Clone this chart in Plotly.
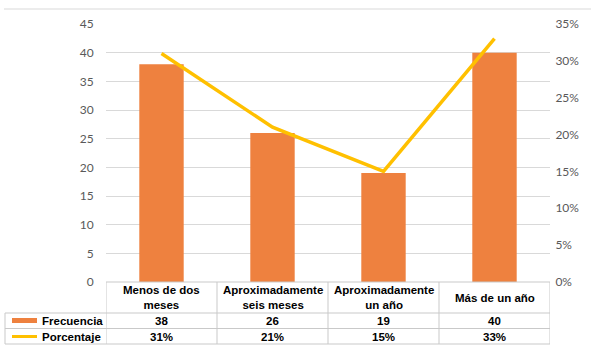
import plotly.graph_objects as go

categorias = ["Menos de dos<br>meses", "Aproximadamente<br>seis meses", "Aproximadamente<br>un año", "Más de un año"]
frecuencia = [38, 26, 19, 40]
porcentaje = [0.31, 0.21, 0.15, 0.33]
series_names = ["Frecuencia", "Porcentaje"]

W, H = 591, 348
L, R, T, B = 106, 550, 24, 282

def px(x):
    return (x - L) / (R - L)

def py(y):
    return (B - y) / (B - T)

BAR = "#EE813F"
LINE = "#FFC000"
GRID = "#D9D9D9"
BORDER = "#C9C9C9"
TICK = "#595959"

xs = list(range(len(categorias)))

fig = go.Figure()
fig.add_trace(go.Bar(x=xs, y=frecuencia, name=series_names[0], marker=dict(color=BAR, line=dict(width=0)),
                     width=0.4, yaxis="y"))
fig.add_trace(go.Scatter(x=xs, y=porcentaje, name=series_names[1], mode="lines",
                         line=dict(color=LINE, width=3.5), yaxis="y2"))

shapes = []
annotations = []

# top frame line
shapes.append(dict(type="line", xref="paper", yref="paper", x0=px(4), x1=px(591), y0=py(9), y1=py(9),
                   line=dict(color=GRID, width=1)))

# table horizontal lines
for yy in [313, 328.5, 344]:
    shapes.append(dict(type="line", xref="paper", yref="paper", x0=px(5), x1=px(R), y0=py(yy), y1=py(yy),
                       line=dict(color=BORDER, width=1)))
shapes.append(dict(type="line", xref="paper", yref="paper", x0=px(L), x1=px(R), y0=py(B), y1=py(B),
                   line=dict(color=BORDER, width=1)))
# verticals
shapes.append(dict(type="line", xref="paper", yref="paper", x0=px(5), x1=px(5), y0=py(313), y1=py(344),
                   line=dict(color=BORDER, width=1)))
for i in range(len(categorias) + 1):
    shapes.append(dict(type="line", xref="x", yref="paper", x0=i - 0.5, x1=i - 0.5, y0=py(B), y1=py(344),
                       line=dict(color=BORDER, width=1)))

# legend keys
shapes.append(dict(type="rect", xref="paper", yref="paper", x0=px(12), x1=px(37), y0=py(318), y1=py(323),
                   fillcolor=BAR, line=dict(width=0)))
shapes.append(dict(type="line", xref="paper", yref="paper", x0=px(12), x1=px(37), y0=py(336.5), y1=py(336.5),
                   line=dict(color=LINE, width=3)))

tfont = dict(family="Liberation Sans, Arial", size=11.5, color="#000000")
annotations.append(dict(text="<b>Frecuencia</b>", xref="paper", yref="paper", x=px(40), y=py(320.5),
                        xanchor="left", yanchor="middle", showarrow=False, font=tfont))
annotations.append(dict(text="<b>Porcentaje</b>", xref="paper", yref="paper", x=px(40), y=py(336.5),
                        xanchor="left", yanchor="middle", showarrow=False, font=tfont))

for i, c in enumerate(categorias):
    annotations.append(dict(text="<b>" + c.replace("<br>", "</b><br><b>") + "</b>", xref="x", yref="paper",
                            x=i, y=py(297.5), xanchor="center", yanchor="middle", showarrow=False,
                            font=tfont, align="center"))
    annotations.append(dict(text="<b>%d</b>" % frecuencia[i], xref="x", yref="paper", x=i, y=py(320.5),
                            xanchor="center", yanchor="middle", showarrow=False, font=tfont))
    annotations.append(dict(text="<b>%d%%</b>" % round(porcentaje[i] * 100), xref="x", yref="paper", x=i,
                            y=py(336.5), xanchor="center", yanchor="middle", showarrow=False, font=tfont))

fig.update_layout(
    width=W, height=H,
    margin=dict(l=L, r=W - R, t=T, b=H - B, pad=0),
    paper_bgcolor="white", plot_bgcolor="white",
    showlegend=False,
    bargap=0.6,
    xaxis=dict(range=[-0.5, len(categorias) - 0.5], showticklabels=False, showgrid=False, zeroline=False,
               showline=False, ticks=""),
    yaxis=dict(range=[0, 45], dtick=5, showgrid=True, gridcolor=GRID, gridwidth=1, zeroline=False,
               showline=False, ticks="outside", ticklen=9, tickcolor="rgba(0,0,0,0)",
               tickfont=dict(family="Lato, Open Sans", size=12, color=TICK)),
    yaxis2=dict(range=[0, 0.35], dtick=0.05, tickformat=".0%", overlaying="y", side="right",
                showgrid=False, zeroline=False, showline=False, ticks="outside", ticklen=2,
                tickcolor="rgba(0,0,0,0)",
                tickfont=dict(family="Lato, Open Sans", size=12, color=TICK)),
    shapes=shapes, annotations=annotations,
)

fig.write_html("out.html")
